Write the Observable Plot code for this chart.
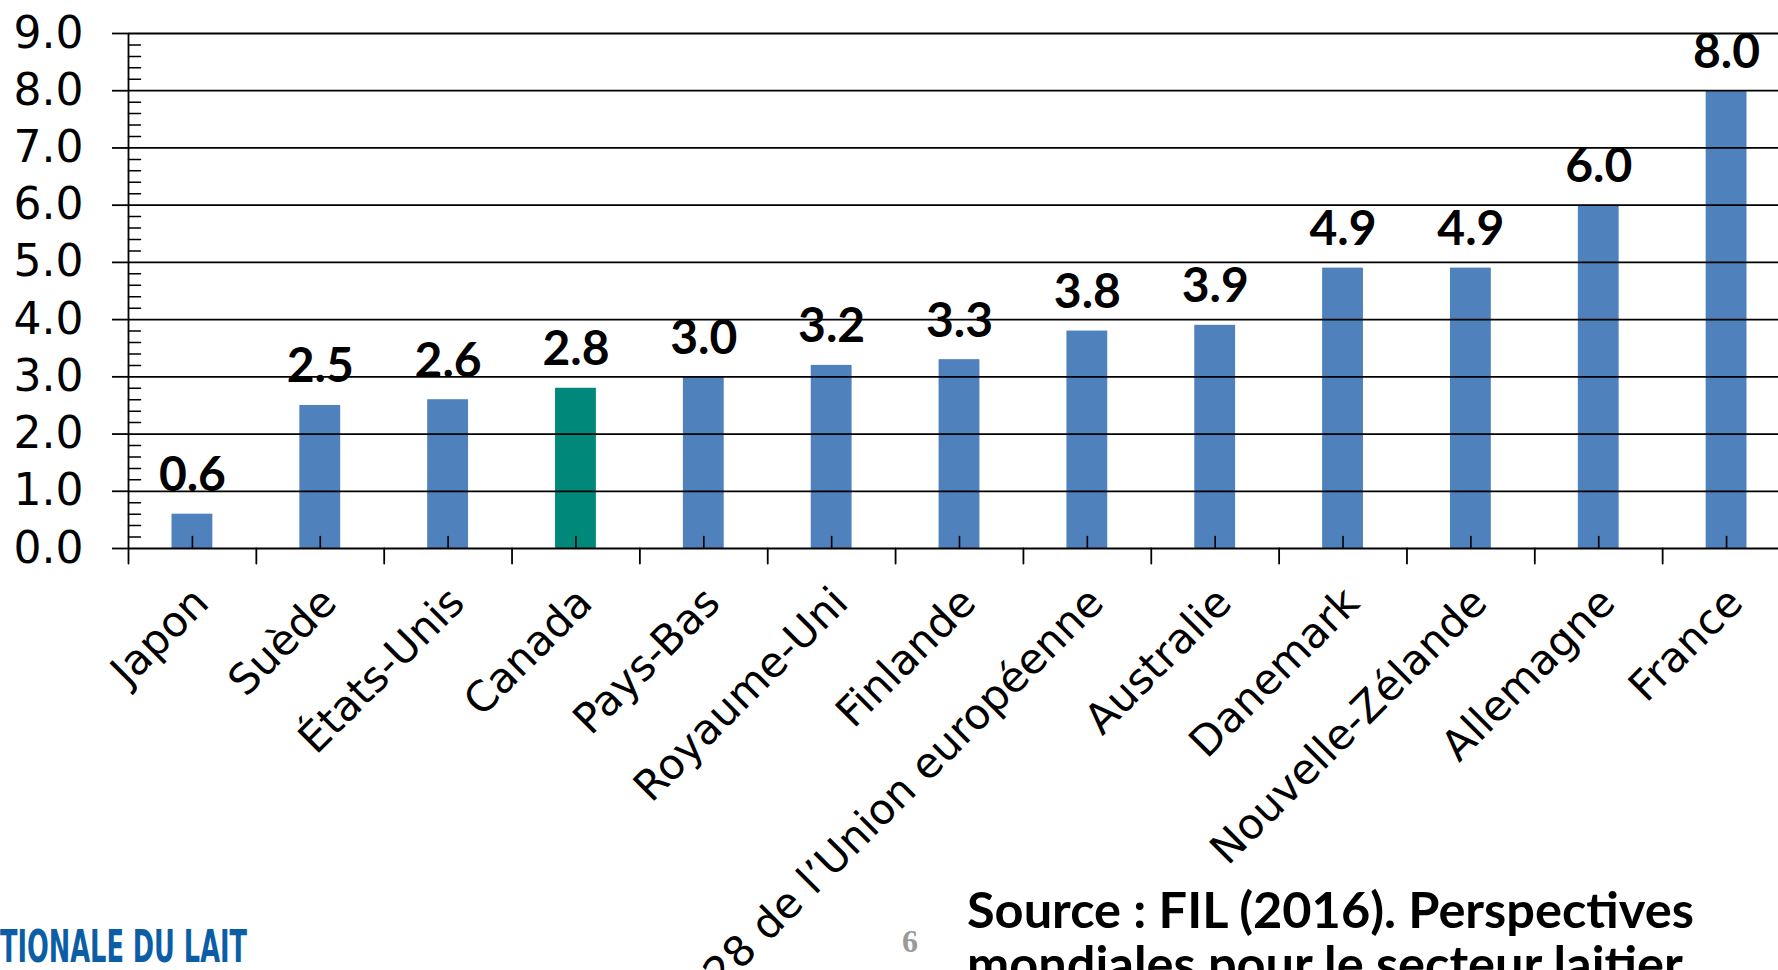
<!DOCTYPE html>
<html>
<head>
<meta charset="utf-8">
<script src="https://cdn.jsdelivr.net/npm/d3@7"></script>
<script src="https://cdn.jsdelivr.net/npm/@observablehq/plot@0.6"></script>
<style>
  html, body { margin: 0; padding: 0; background: #fff; overflow: hidden; }
  #wrap { position: relative; width: 1778px; height: 970px; }
  #overlay { position: absolute; left: 0; top: 0; pointer-events: none; }
</style>
</head>
<body>
<div id="wrap">
  <div id="chart"></div>
  <svg id="overlay" width="1778" height="970" xmlns="http://www.w3.org/2000/svg">
    <text x="0" y="962" font-family="'DejaVu Sans Condensed', 'DejaVu Sans'" font-weight="bold" font-size="44" fill="#0b5ea6" textLength="247" lengthAdjust="spacingAndGlyphs">TIONALE DU LAIT</text>
    <text x="910" y="952" text-anchor="middle" font-family="'Liberation Serif', serif" font-weight="bold" font-size="32" fill="#9a9a9a">6</text>
    <text x="967" y="928" font-family="Lato" font-weight="bold" font-size="50.5" fill="#000">Source : FIL (2016). Perspectives</text>
    <text x="967" y="982" font-family="Lato" font-weight="bold" font-size="50.5" fill="#000">mondiales pour le secteur laitier</text>
  </svg>
</div>
<script>
// ---- data ----
const categories = ["Japon", "Suède", "États-Unis", "Canada", "Pays-Bas", "Royaume-Uni", "Finlande",
  "28 de l’Union européenne", "Australie", "Danemark", "Nouvelle-Zélande", "Allemagne", "France"];
const values = [0.6, 2.5, 2.6, 2.8, 3.0, 3.2, 3.3, 3.8, 3.9, 4.9, 4.9, 6.0, 8.0];
const highlighted = "Canada";
const yTicks = [0, 1, 2, 3, 4, 5, 6, 7, 8, 9];
const yTickLabels = ["0.0", "1.0", "2.0", "3.0", "4.0", "5.0", "6.0", "7.0", "8.0", "9.0"];
const yMinorStep = 0.2;

// ---- derived tables ----
const rows = categories.map((name, i) => ({name, i, value: values[i]}));
const centers = rows.map(d => d.i + 0.5);
const bounds = d3.range(categories.length + 1);
const minorTicks = d3.range(0, yTicks[yTicks.length - 1] / yMinorStep + 1)
  .map(k => k * yMinorStep)
  .filter(v => Math.abs(v - Math.round(v)) > 1e-6);

const lineShape = {draw(context, l) { context.moveTo(0, 0); context.lineTo(0, -l); }};
const BLUE = "#4f81bd", TEAL = "#00887a";
const LINE_W = 1.8;

const chart = Plot.plot({
  width: 1778,
  height: 970,
  marginLeft: 128,
  marginRight: 0,
  marginTop: 33,
  marginBottom: 422,
  style: {fontFamily: "'DejaVu Sans', sans-serif", background: "white", color: "black"},
  x: {domain: [0, categories.length], range: [128, 1790], axis: null},
  y: {domain: [0, 9], axis: null},
  marks: [
    // bars
    Plot.rectY(rows, {
      x1: d => d.i, x2: d => d.i + 1, y: "value",
      insetLeft: 43.5, insetRight: 43.5,
      fill: d => d.name === highlighted ? TEAL : BLUE
    }),
    // horizontal gridlines
    Plot.ruleY(yTicks, {stroke: "black", strokeWidth: LINE_W}),
    // y axis line
    Plot.ruleX([0], {stroke: "black", strokeWidth: LINE_W}),
    // major y ticks + labels
    Plot.axisY({
      ticks: yTicks, tickSize: 16, tickPadding: 29,
      tickFormat: d => yTickLabels[yTicks.indexOf(d)],
      fontSize: 44, strokeWidth: LINE_W, label: null, color: "black"
    }),
    // minor y ticks (inward)
    Plot.vector(minorTicks, {
      y: d => d, frameAnchor: "left", rotate: 90, length: 12, anchor: "start",
      shape: lineShape, stroke: "black", strokeWidth: 1.5
    }),
    // category boundary ticks (downward)
    Plot.vector(bounds, {
      x: d => d, frameAnchor: "bottom", rotate: 180, length: 15, anchor: "start",
      shape: lineShape, stroke: "black", strokeWidth: LINE_W
    }),
    // bar-centre ticks (upward)
    Plot.vector(centers, {
      x: d => d, frameAnchor: "bottom", rotate: 0, length: 12, anchor: "start",
      shape: lineShape, stroke: "black", strokeWidth: 1.6
    }),
    // value labels
    Plot.text(rows, {
      x: d => d.i + 0.5, y: "value", text: d => d3.format(".1f")(d.value),
      lineAnchor: "bottom", dy: -23, fontSize: 48, fontWeight: "bold",
      fontFamily: "Lato", fill: "black"
    }),
    // category labels
    Plot.text(rows, {
      x: d => d.i + 0.5, text: "name", frameAnchor: "bottom",
      rotate: -45, textAnchor: "end", lineAnchor: "middle",
      dx: 9, dy: 47, fontSize: 42, fill: "black"
    })
  ]
});
document.getElementById("chart").appendChild(chart);
</script>
</body>
</html>
